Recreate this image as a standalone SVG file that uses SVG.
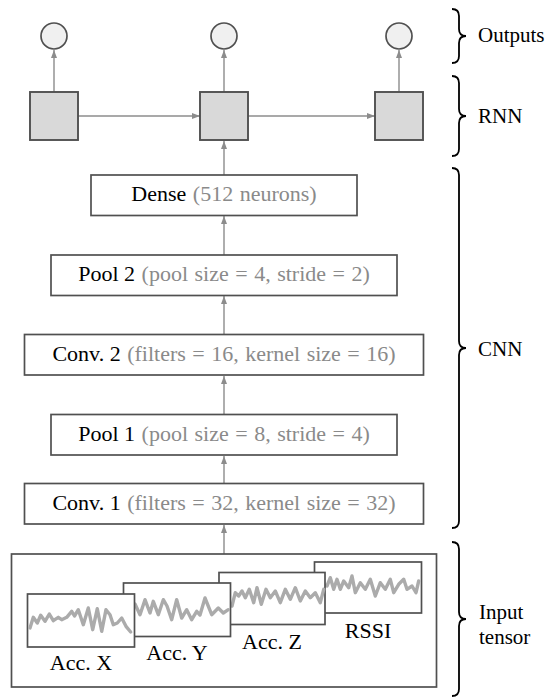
<svg xmlns="http://www.w3.org/2000/svg" width="553" height="698" viewBox="0 0 553 698">
<style>
.box{fill:#fff;stroke:#505050;stroke-width:1.7}
.sq{fill:#d9d9d9;stroke:#505050;stroke-width:1.9}
.out{fill:#f0f0f0;stroke:#505050;stroke-width:1.7}
.conn line{stroke:#8c8c8c;stroke-width:1.4;marker-end:url(#ah)}
.t{font-family:"Liberation Serif","Times New Roman",serif;font-size:22px;fill:#000}
.s{font-size:21px}
.m{text-anchor:middle}
.g{fill:#8a8a8a;word-spacing:1px}
.brace{fill:none;stroke:#000;stroke-width:1.8}
.wave{fill:none;stroke:#ababab;stroke-width:3.4;stroke-linejoin:round;stroke-linecap:round}
.panel{fill:#fff;stroke:#505050;stroke-width:1.7}
</style>
<defs>
<marker id="ah" viewBox="0 0 8 6" refX="8" refY="3" markerWidth="8" markerHeight="6" markerUnits="userSpaceOnUse" orient="auto">
<path d="M0,0 L8,3 L0,6 z" fill="#8c8c8c"/>
</marker>
</defs>
<rect width="553" height="698" fill="#fff"/>

<g id="connectors" class="conn">
<line x1="54" y1="92" x2="54" y2="50"/>
<line x1="224" y1="92" x2="224" y2="50"/>
<line x1="399" y1="92" x2="399" y2="50"/>
<line x1="78" y1="116" x2="200" y2="116"/>
<line x1="248" y1="116" x2="375" y2="116"/>
<line x1="224" y1="175" x2="224" y2="141"/>
<line x1="224" y1="255" x2="224" y2="216"/>
<line x1="224" y1="334" x2="224" y2="296"/>
<line x1="224" y1="414" x2="224" y2="376"/>
<line x1="224" y1="483" x2="224" y2="456"/>
<line x1="224" y1="554" x2="224" y2="525"/>
</g>

<g id="out1"><circle class="out" cx="54" cy="36" r="13"/></g>
<g id="out2"><circle class="out" cx="224" cy="36" r="13"/></g>
<g id="out3"><circle class="out" cx="399" cy="36" r="13"/></g>

<g id="rnn1"><rect class="sq" x="30" y="92" width="48" height="48"/></g>
<g id="rnn2"><rect class="sq" x="200" y="92" width="48" height="48"/></g>
<g id="rnn3"><rect class="sq" x="375" y="92" width="48" height="48"/></g>

<g id="dense"><rect class="box" x="91" y="175" width="266" height="40.5"/>
<text class="t m" x="224" y="201">Dense<tspan class="g"> (512 neurons)</tspan></text></g>
<g id="pool2"><rect class="box" x="51" y="255" width="346" height="40.5"/>
<text class="t m" x="224" y="281">Pool 2<tspan class="g"> (pool size = 4, stride = 2)</tspan></text></g>
<g id="conv2"><rect class="box" x="24.5" y="334.5" width="399" height="40.5"/>
<text class="t m" x="224" y="360.5">Conv. 2<tspan class="g"> (filters = 16, kernel size = 16)</tspan></text></g>
<g id="pool1"><rect class="box" x="51" y="414.5" width="346" height="40.5"/>
<text class="t m" x="224" y="440.5">Pool 1<tspan class="g"> (pool size = 8, stride = 4)</tspan></text></g>
<g id="conv1"><rect class="box" x="24.5" y="483.5" width="399" height="40.5"/>
<text class="t m" x="224" y="509.5">Conv. 1<tspan class="g"> (filters = 32, kernel size = 32)</tspan></text></g>

<g id="input">
<rect class="box" x="11.5" y="554" width="425" height="133"/>
<g id="rssi">
<rect class="panel" x="314.5" y="562" width="107" height="51"/>
<polyline class="wave" points="318,590 322,584 327,586 330.3,577.7 333.7,589.3 337,579.3 340.3,589.3 343.7,581 348.7,587.7 352,576 355.3,592.7 360.3,582.7 365.3,589.3 370.3,579.3 375.3,596 380.3,582.7 385.3,589.3 390.3,579.3 393.7,592.7 398.7,584.3 403.7,579.3 407,589.3 412,586 416,592.7 418.7,581"/>
<text class="t m" x="368" y="638">RSSI</text>
</g>
<g id="accz">
<rect class="panel" x="219" y="572.5" width="106" height="52"/>
<polyline class="wave" points="222,600 226,596 230,604 232,606 235.3,592.7 238.7,596 242,591 245.3,597.7 249.3,589.3 253.7,602.7 257,587.7 261.3,604.3 266,589.3 270.3,597.7 275.3,591 280.3,602.7 285.3,589.3 290.3,599.3 295.3,587.7 300.3,601 305.3,591 310.3,597.7 315.3,592.7 320.3,602.7 323.7,589.3"/>
<text class="t m" x="272" y="649">Acc. Z</text>
</g>
<g id="accy">
<rect class="panel" x="123.5" y="583" width="107" height="53.5"/>
<polyline class="wave" points="126,612 130,602 135,604 140,614.7 145,599.7 150,613 153.3,601.3 158.3,614.7 163.3,599.7 167,606 171.7,619.7 176.7,599.7 181.7,618 186.7,609.7 191.7,619.7 196.7,611.3 200,615 205,598 211.7,614.7 218.3,608 223.3,613 228.3,609.7"/>
<text class="t m" x="177" y="659.5">Acc. Y</text>
</g>
<g id="accx">
<rect class="panel" x="27.5" y="594" width="107" height="53"/>
<polyline class="wave" points="30,628 33.3,617.3 37.3,623 40.7,615.3 45,621.3 49.3,614 53.3,620.7 58.3,617.3 61.7,619.7 66.7,617.3 71.7,611.3 74.5,616 78.3,609.7 83.3,624.7 88.3,608 92.7,629.7 97.3,608.7 101.7,631.3 106,609.7 110,614.7 113.3,624.7 117.3,623 121.7,618 126,626.3 130.7,632"/>
<text class="t m" x="81" y="670">Acc. X</text>
</g>
</g>

<g id="groups">
<path class="brace" d="M452,9 Q459,9 459,16 L459,29 Q459,36 466,36 Q459,36 459,43 L459,56 Q459,63 452,63"/>
<text class="t s" x="478" y="42">Outputs</text>
<path class="brace" d="M452,76 Q459,76 459,83 L459,109 Q459,116 466,116 Q459,116 459,123 L459,149 Q459,156 452,156"/>
<text class="t s" x="478" y="123">RNN</text>
<path class="brace" d="M452,168 Q459,168 459,175 L459,341 Q459,348 466,348 Q459,348 459,355 L459,521 Q459,528 452,528"/>
<text class="t s" x="478" y="356">CNN</text>
<path class="brace" d="M452,542 Q459,542 459,549 L459,612 Q459,619 466,619 Q459,619 459,626 L459,689 Q459,696 452,696"/>
<text class="t s" x="479" y="619">Input</text>
<text class="t s" x="479" y="644">tensor</text>
</g>
</svg>
